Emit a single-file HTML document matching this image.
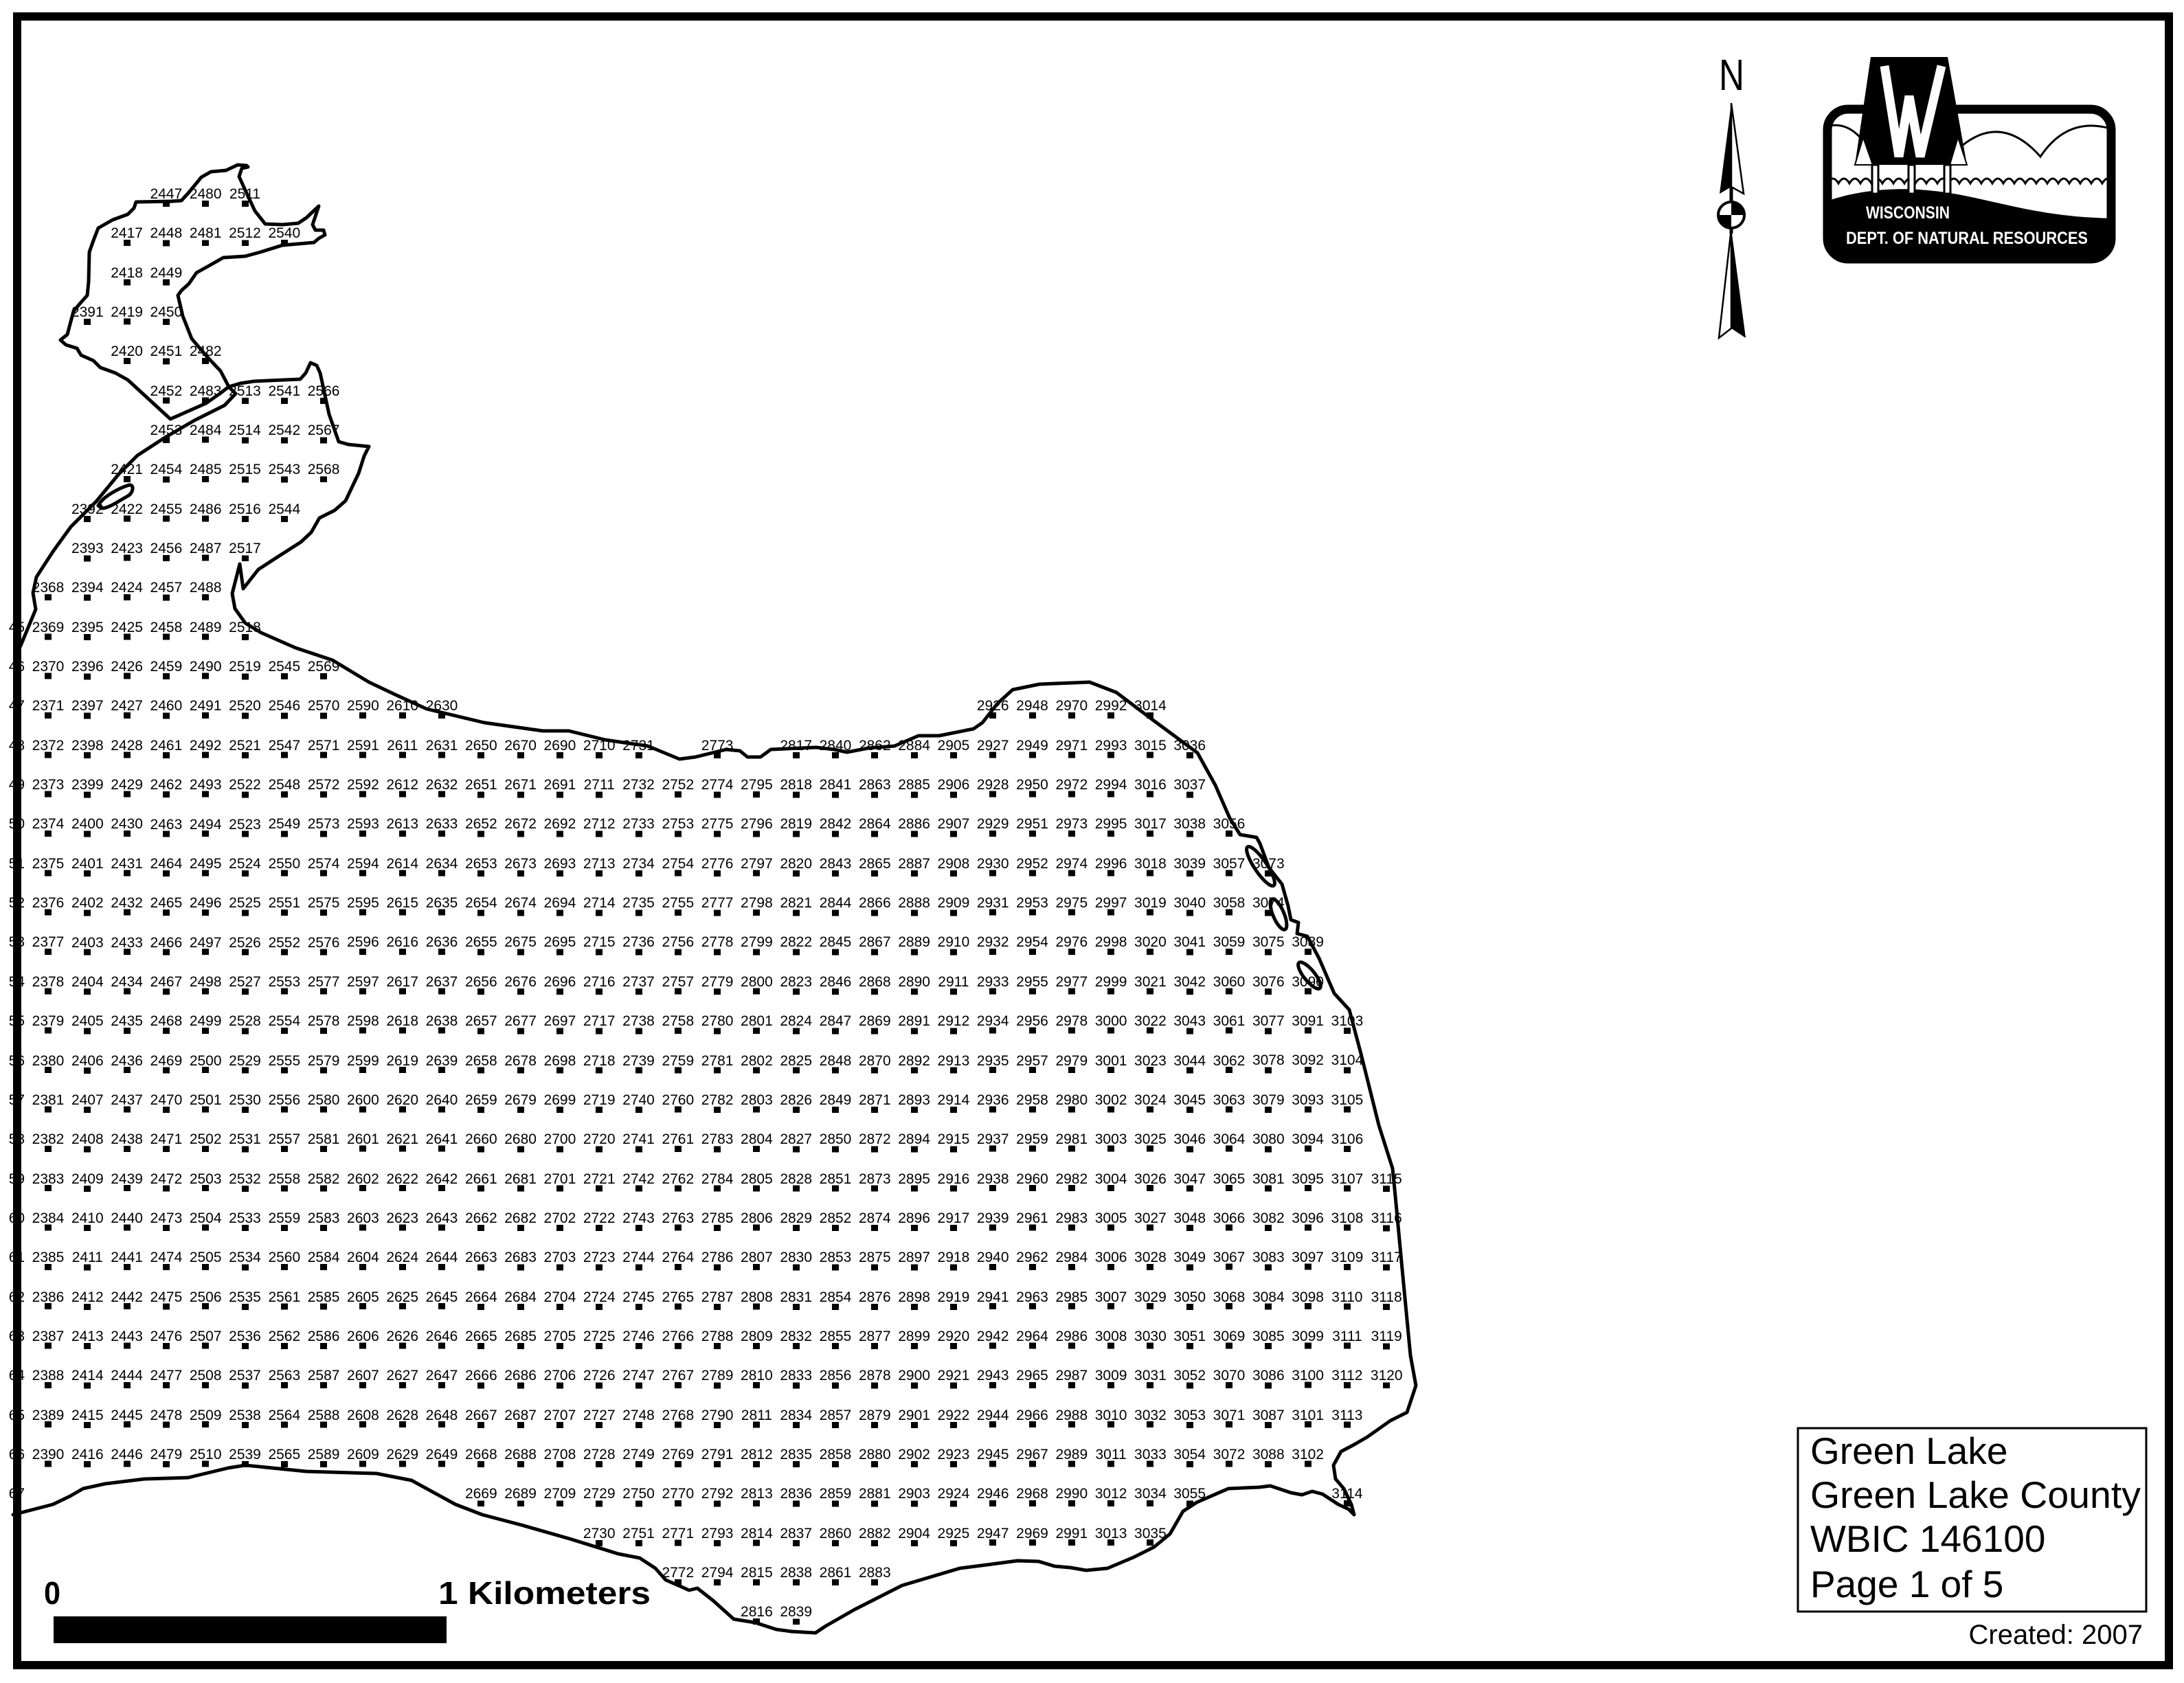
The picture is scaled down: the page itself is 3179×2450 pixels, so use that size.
<!DOCTYPE html>
<html><head><meta charset="utf-8">
<style>
html,body{margin:0;padding:0;background:#fff;}
body{width:3179px;height:2450px;position:relative;overflow:hidden;font-family:"Liberation Sans",Arial,sans-serif;}
svg{position:absolute;left:0;top:0;}
.c{position:absolute;width:80px;text-align:center;font-size:21px;line-height:57.34px;white-space:nowrap;color:#000;}
.d{position:absolute;width:10px;background:repeating-linear-gradient(#000 0px,#000 9px,transparent 9px,transparent 57.34px);}
.clip{position:absolute;left:13px;top:0;width:60px;height:2450px;overflow:hidden;}
</style></head><body>
<svg width="3179" height="2450" viewBox="0 0 3179 2450">
<g fill="none" stroke="#000" stroke-width="5" stroke-linejoin="round" stroke-linecap="round">
<path d="M22,955 L30,940 L52,887 L48,863 L53,840 L77,803 L103,767 L140,730 L173,690 L200,663 L240,637 L283,612 L327,590 L343,573 L333,563 L321,540 L302,520 L279,493 L266,460 L259,430 L264,423 L275,413 L286,397 L304,387 L325,375 L357,373 L379,367 L411,357 L457,353 L464,347 L473,342 L471,335 L459,335 L455,327 L464,300 L446,317 L434,325 L411,327 L386,326 L371,307 L357,277 L348,257 L352,245 L361,243 L359,241 L346,240 L329,248 L307,250 L293,258 L275,280 L264,292 L250,293 L198,294 L195,303 L186,312 L164,320 L143,332 L136,350 L130,367 L129,410 L127,430 L118,440 L107,453 L98,487 L88,495 L96,502 L112,507 L118,517 L136,525 L146,535 L168,543 L186,553 L248,610 L300,587 L320,573 L333,563 L350,558 L370,555 L437,552 L445,543 L452,528 L461,532 L466,543 L479,603 L493,643 L507,647 L537,650 L530,664 L522,689 L503,729 L487,743 L465,754 L453,775 L438,789 L399,814 L376,829 L354,857 L349,821 L338,864 L342,886 L357,907 L380,921 L430,943 L484,961 L537,993 L575,1011 L621,1032 L705,1052 L790,1064 L828,1064 L881,1077 L943,1086 L989,1105 L1012,1102 L1057,1091 L1077,1093 L1088,1102 L1107,1102 L1122,1091 L1188,1088 L1214,1091 L1233,1095 L1264,1089 L1302,1086 L1337,1071 L1367,1071 L1417,1061 L1430,1052 L1452,1024 L1474,1004 L1513,996 L1586,993 L1625,1008 L1678,1048 L1743,1096 L1769,1143 L1790,1191 L1805,1215 L1829,1219 L1834,1228 L1847,1263 L1866,1287 L1875,1319 L1879,1339 L1890,1343 L1888,1359 L1903,1363 L1920,1395 L1942,1446 L1964,1470 L1981,1534 L2007,1638 L2027,1701 L2031,1741 L2040,1837 L2053,1973 L2061,2017 L2048,2056 L2024,2068 L1990,2092 L1971,2103 L1952,2113 L1941,2133 L1944,2153 L1956,2167 L1967,2190 L1971,2205 L1963,2197 L1948,2190 L1925,2175 L1910,2171 L1895,2176 L1879,2173 L1849,2163 L1833,2165 L1788,2167 L1742,2187 L1722,2200 L1703,2233 L1680,2252 L1650,2267 L1612,2283 L1581,2286 L1558,2282 L1535,2280 L1512,2273 L1481,2272 L1436,2278 L1397,2283 L1313,2308 L1244,2343 L1202,2367 L1187,2377 L1152,2375 L1130,2372 L1099,2362 L1068,2357 L1038,2330 L1015,2312 L1003,2315 L992,2310 L969,2300 L954,2283 L931,2268 L900,2262 L829,2240 L759,2220 L702,2205 L663,2190 L599,2155 L548,2145 L446,2142 L357,2133 L332,2137 L274,2151 L210,2153 L153,2160 L121,2167 L102,2178 L77,2190 L19,2205"/>
<path d="M143,736 C150,722 175,710 188,706 C196,705 194,718 186,722 C172,730 158,740 148,740 Z" fill="#fff"/>
<ellipse cx="1835" cy="1261" rx="34" ry="9" transform="rotate(56 1835 1261)" fill="#fff"/>
<ellipse cx="1861" cy="1331" rx="24" ry="8" transform="rotate(67 1861 1331)" fill="#fff"/>
<ellipse cx="1906" cy="1420" rx="24" ry="8" transform="rotate(51 1906 1420)" fill="#fff"/>
</g>
</svg>

<div class="clip"><div class="c" style="left:-40.3px;top:884.74px">2345<br>2346<br>2347<br>2348<br>2349<br>2350<br>2351<br>2352<br>2353<br>2354<br>2355<br>2356<br>2357<br>2358<br>2359<br>2360<br>2361<br>2362<br>2363<br>2364<br>2365<br>2366<br>2367</div></div>
<div class="c" style="left:30px;top:827.4px">2368<br>2369<br>2370<br>2371<br>2372<br>2373<br>2374<br>2375<br>2376<br>2377<br>2378<br>2379<br>2380<br>2381<br>2382<br>2383<br>2384<br>2385<br>2386<br>2387<br>2388<br>2389<br>2390</div>
<div class="c" style="left:87.3px;top:426.02px">2391<br><br><br><br><br>2392<br>2393<br>2394<br>2395<br>2396<br>2397<br>2398<br>2399<br>2400<br>2401<br>2402<br>2403<br>2404<br>2405<br>2406<br>2407<br>2408<br>2409<br>2410<br>2411<br>2412<br>2413<br>2414<br>2415<br>2416</div>
<div class="c" style="left:144.6px;top:311.34px">2417<br>2418<br>2419<br>2420<br><br><br>2421<br>2422<br>2423<br>2424<br>2425<br>2426<br>2427<br>2428<br>2429<br>2430<br>2431<br>2432<br>2433<br>2434<br>2435<br>2436<br>2437<br>2438<br>2439<br>2440<br>2441<br>2442<br>2443<br>2444<br>2445<br>2446</div>
<div class="c" style="left:201.9px;top:254px">2447<br>2448<br>2449<br>2450<br>2451<br>2452<br>2453<br>2454<br>2455<br>2456<br>2457<br>2458<br>2459<br>2460<br>2461<br>2462<br>2463<br>2464<br>2465<br>2466<br>2467<br>2468<br>2469<br>2470<br>2471<br>2472<br>2473<br>2474<br>2475<br>2476<br>2477<br>2478<br>2479</div>
<div class="c" style="left:259.2px;top:254px">2480<br>2481<br><br><br>2482<br>2483<br>2484<br>2485<br>2486<br>2487<br>2488<br>2489<br>2490<br>2491<br>2492<br>2493<br>2494<br>2495<br>2496<br>2497<br>2498<br>2499<br>2500<br>2501<br>2502<br>2503<br>2504<br>2505<br>2506<br>2507<br>2508<br>2509<br>2510</div>
<div class="c" style="left:316.5px;top:254px">2511<br>2512<br><br><br><br>2513<br>2514<br>2515<br>2516<br>2517<br><br>2518<br>2519<br>2520<br>2521<br>2522<br>2523<br>2524<br>2525<br>2526<br>2527<br>2528<br>2529<br>2530<br>2531<br>2532<br>2533<br>2534<br>2535<br>2536<br>2537<br>2538<br>2539</div>
<div class="c" style="left:373.8px;top:311.34px">2540<br><br><br><br>2541<br>2542<br>2543<br>2544<br><br><br><br>2545<br>2546<br>2547<br>2548<br>2549<br>2550<br>2551<br>2552<br>2553<br>2554<br>2555<br>2556<br>2557<br>2558<br>2559<br>2560<br>2561<br>2562<br>2563<br>2564<br>2565</div>
<div class="c" style="left:431.1px;top:540.7px">2566<br>2567<br>2568<br><br><br><br><br>2569<br>2570<br>2571<br>2572<br>2573<br>2574<br>2575<br>2576<br>2577<br>2578<br>2579<br>2580<br>2581<br>2582<br>2583<br>2584<br>2585<br>2586<br>2587<br>2588<br>2589</div>
<div class="c" style="left:488.4px;top:999.42px">2590<br>2591<br>2592<br>2593<br>2594<br>2595<br>2596<br>2597<br>2598<br>2599<br>2600<br>2601<br>2602<br>2603<br>2604<br>2605<br>2606<br>2607<br>2608<br>2609</div>
<div class="c" style="left:545.7px;top:999.42px">2610<br>2611<br>2612<br>2613<br>2614<br>2615<br>2616<br>2617<br>2618<br>2619<br>2620<br>2621<br>2622<br>2623<br>2624<br>2625<br>2626<br>2627<br>2628<br>2629</div>
<div class="c" style="left:603px;top:999.42px">2630<br>2631<br>2632<br>2633<br>2634<br>2635<br>2636<br>2637<br>2638<br>2639<br>2640<br>2641<br>2642<br>2643<br>2644<br>2645<br>2646<br>2647<br>2648<br>2649</div>
<div class="c" style="left:660.3px;top:1056.76px">2650<br>2651<br>2652<br>2653<br>2654<br>2655<br>2656<br>2657<br>2658<br>2659<br>2660<br>2661<br>2662<br>2663<br>2664<br>2665<br>2666<br>2667<br>2668<br>2669</div>
<div class="c" style="left:717.6px;top:1056.76px">2670<br>2671<br>2672<br>2673<br>2674<br>2675<br>2676<br>2677<br>2678<br>2679<br>2680<br>2681<br>2682<br>2683<br>2684<br>2685<br>2686<br>2687<br>2688<br>2689</div>
<div class="c" style="left:774.9px;top:1056.76px">2690<br>2691<br>2692<br>2693<br>2694<br>2695<br>2696<br>2697<br>2698<br>2699<br>2700<br>2701<br>2702<br>2703<br>2704<br>2705<br>2706<br>2707<br>2708<br>2709</div>
<div class="c" style="left:832.2px;top:1056.76px">2710<br>2711<br>2712<br>2713<br>2714<br>2715<br>2716<br>2717<br>2718<br>2719<br>2720<br>2721<br>2722<br>2723<br>2724<br>2725<br>2726<br>2727<br>2728<br>2729<br>2730</div>
<div class="c" style="left:889.5px;top:1056.76px">2731<br>2732<br>2733<br>2734<br>2735<br>2736<br>2737<br>2738<br>2739<br>2740<br>2741<br>2742<br>2743<br>2744<br>2745<br>2746<br>2747<br>2748<br>2749<br>2750<br>2751</div>
<div class="c" style="left:946.8px;top:1114.1px">2752<br>2753<br>2754<br>2755<br>2756<br>2757<br>2758<br>2759<br>2760<br>2761<br>2762<br>2763<br>2764<br>2765<br>2766<br>2767<br>2768<br>2769<br>2770<br>2771<br>2772</div>
<div class="c" style="left:1004.1px;top:1056.76px">2773<br>2774<br>2775<br>2776<br>2777<br>2778<br>2779<br>2780<br>2781<br>2782<br>2783<br>2784<br>2785<br>2786<br>2787<br>2788<br>2789<br>2790<br>2791<br>2792<br>2793<br>2794</div>
<div class="c" style="left:1061.4px;top:1114.1px">2795<br>2796<br>2797<br>2798<br>2799<br>2800<br>2801<br>2802<br>2803<br>2804<br>2805<br>2806<br>2807<br>2808<br>2809<br>2810<br>2811<br>2812<br>2813<br>2814<br>2815<br>2816</div>
<div class="c" style="left:1118.7px;top:1056.76px">2817<br>2818<br>2819<br>2820<br>2821<br>2822<br>2823<br>2824<br>2825<br>2826<br>2827<br>2828<br>2829<br>2830<br>2831<br>2832<br>2833<br>2834<br>2835<br>2836<br>2837<br>2838<br>2839</div>
<div class="c" style="left:1176px;top:1056.76px">2840<br>2841<br>2842<br>2843<br>2844<br>2845<br>2846<br>2847<br>2848<br>2849<br>2850<br>2851<br>2852<br>2853<br>2854<br>2855<br>2856<br>2857<br>2858<br>2859<br>2860<br>2861</div>
<div class="c" style="left:1233.3px;top:1056.76px">2862<br>2863<br>2864<br>2865<br>2866<br>2867<br>2868<br>2869<br>2870<br>2871<br>2872<br>2873<br>2874<br>2875<br>2876<br>2877<br>2878<br>2879<br>2880<br>2881<br>2882<br>2883</div>
<div class="c" style="left:1290.6px;top:1056.76px">2884<br>2885<br>2886<br>2887<br>2888<br>2889<br>2890<br>2891<br>2892<br>2893<br>2894<br>2895<br>2896<br>2897<br>2898<br>2899<br>2900<br>2901<br>2902<br>2903<br>2904</div>
<div class="c" style="left:1347.9px;top:1056.76px">2905<br>2906<br>2907<br>2908<br>2909<br>2910<br>2911<br>2912<br>2913<br>2914<br>2915<br>2916<br>2917<br>2918<br>2919<br>2920<br>2921<br>2922<br>2923<br>2924<br>2925</div>
<div class="c" style="left:1405.2px;top:999.42px">2926<br>2927<br>2928<br>2929<br>2930<br>2931<br>2932<br>2933<br>2934<br>2935<br>2936<br>2937<br>2938<br>2939<br>2940<br>2941<br>2942<br>2943<br>2944<br>2945<br>2946<br>2947</div>
<div class="c" style="left:1462.5px;top:999.42px">2948<br>2949<br>2950<br>2951<br>2952<br>2953<br>2954<br>2955<br>2956<br>2957<br>2958<br>2959<br>2960<br>2961<br>2962<br>2963<br>2964<br>2965<br>2966<br>2967<br>2968<br>2969</div>
<div class="c" style="left:1519.8px;top:999.42px">2970<br>2971<br>2972<br>2973<br>2974<br>2975<br>2976<br>2977<br>2978<br>2979<br>2980<br>2981<br>2982<br>2983<br>2984<br>2985<br>2986<br>2987<br>2988<br>2989<br>2990<br>2991</div>
<div class="c" style="left:1577.1px;top:999.42px">2992<br>2993<br>2994<br>2995<br>2996<br>2997<br>2998<br>2999<br>3000<br>3001<br>3002<br>3003<br>3004<br>3005<br>3006<br>3007<br>3008<br>3009<br>3010<br>3011<br>3012<br>3013</div>
<div class="c" style="left:1634.4px;top:999.42px">3014<br>3015<br>3016<br>3017<br>3018<br>3019<br>3020<br>3021<br>3022<br>3023<br>3024<br>3025<br>3026<br>3027<br>3028<br>3029<br>3030<br>3031<br>3032<br>3033<br>3034<br>3035</div>
<div class="c" style="left:1691.7px;top:1056.76px">3036<br>3037<br>3038<br>3039<br>3040<br>3041<br>3042<br>3043<br>3044<br>3045<br>3046<br>3047<br>3048<br>3049<br>3050<br>3051<br>3052<br>3053<br>3054<br>3055</div>
<div class="c" style="left:1749px;top:1171.44px">3056<br>3057<br>3058<br>3059<br>3060<br>3061<br>3062<br>3063<br>3064<br>3065<br>3066<br>3067<br>3068<br>3069<br>3070<br>3071<br>3072</div>
<div class="c" style="left:1806.3px;top:1228.78px">3073<br>3074<br>3075<br>3076<br>3077<br>3078<br>3079<br>3080<br>3081<br>3082<br>3083<br>3084<br>3085<br>3086<br>3087<br>3088</div>
<div class="c" style="left:1863.6px;top:1343.46px">3089<br>3090<br>3091<br>3092<br>3093<br>3094<br>3095<br>3096<br>3097<br>3098<br>3099<br>3100<br>3101<br>3102</div>
<div class="c" style="left:1920.9px;top:1458.14px">3103<br>3104<br>3105<br>3106<br>3107<br>3108<br>3109<br>3110<br>3111<br>3112<br>3113<br><br>3114</div>
<div class="c" style="left:1978.2px;top:1687.5px">3115<br>3116<br>3117<br>3118<br>3119<br>3120</div>

<div class="d" style="left:65px;top:865.4px;height:1270.48px"></div>
<div class="d" style="left:122.3px;top:464.02px;height:9px"></div>
<div class="d" style="left:122.3px;top:750.72px;height:1385.16px"></div>
<div class="d" style="left:179.6px;top:349.34px;height:181.02px"></div>
<div class="d" style="left:179.6px;top:693.38px;height:1442.5px"></div>
<div class="d" style="left:236.9px;top:292px;height:1843.88px"></div>
<div class="d" style="left:294.2px;top:292px;height:66.34px"></div>
<div class="d" style="left:294.2px;top:521.36px;height:1614.52px"></div>
<div class="d" style="left:351.5px;top:292px;height:66.34px"></div>
<div class="d" style="left:351.5px;top:578.7px;height:238.36px"></div>
<div class="d" style="left:351.5px;top:922.74px;height:1213.14px"></div>
<div class="d" style="left:408.8px;top:349.34px;height:9px"></div>
<div class="d" style="left:408.8px;top:578.7px;height:181.02px"></div>
<div class="d" style="left:408.8px;top:980.08px;height:1155.8px"></div>
<div class="d" style="left:466.1px;top:578.7px;height:123.68px"></div>
<div class="d" style="left:466.1px;top:980.08px;height:1155.8px"></div>
<div class="d" style="left:523.4px;top:1037.42px;height:1098.46px"></div>
<div class="d" style="left:580.7px;top:1037.42px;height:1098.46px"></div>
<div class="d" style="left:638px;top:1037.42px;height:1098.46px"></div>
<div class="d" style="left:695.3px;top:1094.76px;height:1098.46px"></div>
<div class="d" style="left:752.6px;top:1094.76px;height:1098.46px"></div>
<div class="d" style="left:809.9px;top:1094.76px;height:1098.46px"></div>
<div class="d" style="left:867.2px;top:1094.76px;height:1155.8px"></div>
<div class="d" style="left:924.5px;top:1094.76px;height:1155.8px"></div>
<div class="d" style="left:981.8px;top:1152.1px;height:1155.8px"></div>
<div class="d" style="left:1039.1px;top:1094.76px;height:1213.14px"></div>
<div class="d" style="left:1096.4px;top:1152.1px;height:1213.14px"></div>
<div class="d" style="left:1153.7px;top:1094.76px;height:1270.48px"></div>
<div class="d" style="left:1211px;top:1094.76px;height:1213.14px"></div>
<div class="d" style="left:1268.3px;top:1094.76px;height:1213.14px"></div>
<div class="d" style="left:1325.6px;top:1094.76px;height:1155.8px"></div>
<div class="d" style="left:1382.9px;top:1094.76px;height:1155.8px"></div>
<div class="d" style="left:1440.2px;top:1037.42px;height:1213.14px"></div>
<div class="d" style="left:1497.5px;top:1037.42px;height:1213.14px"></div>
<div class="d" style="left:1554.8px;top:1037.42px;height:1213.14px"></div>
<div class="d" style="left:1612.1px;top:1037.42px;height:1213.14px"></div>
<div class="d" style="left:1669.4px;top:1037.42px;height:1213.14px"></div>
<div class="d" style="left:1726.7px;top:1094.76px;height:1098.46px"></div>
<div class="d" style="left:1784px;top:1209.44px;height:926.44px"></div>
<div class="d" style="left:1841.3px;top:1266.78px;height:869.1px"></div>
<div class="d" style="left:1898.6px;top:1381.46px;height:754.42px"></div>
<div class="d" style="left:1955.9px;top:1496.14px;height:582.4px"></div>
<div class="d" style="left:1955.9px;top:2184.22px;height:9px"></div>
<div class="d" style="left:2013.2px;top:1725.5px;height:295.7px"></div>

<svg width="3179" height="2450" viewBox="0 0 3179 2450">
<defs>
<clipPath id="lc"><rect x="2660" y="159" width="413" height="218" rx="30"/></clipPath>
</defs>
<rect x="25" y="24" width="3132" height="2400" fill="none" stroke="#000" stroke-width="12"/>
<!-- north arrow -->
<text x="2502" y="131" font-family="Liberation Sans, Arial, sans-serif" font-size="64" textLength="37" lengthAdjust="spacingAndGlyphs">N</text>
<polygon points="2520,150 2503,282 2520,272" fill="#000"/>
<polygon points="2520,150 2538,282 2520,272" fill="#fff" stroke="#000" stroke-width="2.5"/>
<line x1="2520" y1="272" x2="2520" y2="340" stroke="#000" stroke-width="5"/>
<circle cx="2520" cy="313" r="19" fill="#fff" stroke="#000" stroke-width="4"/>
<path d="M2520,313 L2520,294 A19,19 0 0 1 2539,313 Z" fill="#000"/>
<path d="M2520,313 L2520,332 A19,19 0 0 1 2501,313 Z" fill="#000"/>
<polygon points="2520,333 2502,492 2520,478" fill="#fff" stroke="#000" stroke-width="2.5"/>
<polygon points="2520,333 2541,492 2520,478" fill="#000"/>
<!-- logo -->
<g clip-path="url(#lc)">
<rect x="2660" y="159" width="413" height="218" fill="#fff"/>
<path d="M2664,183 Q2690,178 2712,205" fill="none" stroke="#000" stroke-width="3"/>
<path d="M2856,212 Q2914,165 2970,228 Q3010,168 3075,188" fill="none" stroke="#000" stroke-width="3"/>
<path d="M2660,267 q8,-14 16,0 q8,-14 16,0 q8,-14 16,0 q8,-14 16,0 q8,-14 16,0 q8,-14 16,0 q8,-14 16,0 q8,-14 16,0 q8,-14 16,0 q8,-14 16,0 q8,-14 16,0 q8,-14 16,0 q8,-14 16,0 q8,-14 16,0 q8,-14 16,0 q8,-14 16,0 q8,-14 16,0 q8,-14 16,0 q8,-14 16,0 q8,-14 16,0 q8,-14 16,0 q8,-14 16,0 q8,-14 16,0 q8,-14 16,0 q8,-14 16,0 q8,-14 16,0" fill="none" stroke="#000" stroke-width="3"/>
<path d="M2650,296 C2720,270 2790,272 2850,283 C2920,296 2980,318 3090,318 L3090,390 L2650,390 Z" fill="#000"/>
</g>
<rect x="2660" y="159" width="413" height="218" rx="30" fill="none" stroke="#000" stroke-width="13"/>
<polygon points="2723,83 2835,83 2863,240 2700,240" fill="#000"/>
<polyline points="2743,96 2764,228 2779,140 2795,228 2826,96" fill="none" stroke="#fff" stroke-width="13" stroke-linejoin="miter"/>
<polygon points="2712,200 2700,240 2726,240" fill="#fff" stroke="#000" stroke-width="2"/>
<polygon points="2850,200 2863,240 2838,240" fill="#fff" stroke="#000" stroke-width="2"/>
<rect x="2725" y="240" width="9" height="42" fill="#fff" stroke="#000" stroke-width="3"/>
<rect x="2778" y="240" width="9" height="42" fill="#fff" stroke="#000" stroke-width="3"/>
<rect x="2830" y="240" width="9" height="42" fill="#fff" stroke="#000" stroke-width="3"/>
<text x="2716" y="318" font-family="Liberation Sans, Arial, sans-serif" font-weight="bold" font-size="25" fill="#fff" textLength="122" lengthAdjust="spacingAndGlyphs">WISCONSIN</text>
<text x="2687" y="355" font-family="Liberation Sans, Arial, sans-serif" font-weight="bold" font-size="25" fill="#fff" textLength="352" lengthAdjust="spacingAndGlyphs">DEPT. OF NATURAL RESOURCES</text>
<!-- scale bar -->
<rect x="78" y="2353" width="572" height="39" fill="#000"/>
<text x="64" y="2335" font-family="Liberation Sans, Arial, sans-serif" font-weight="bold" font-size="46" textLength="24" lengthAdjust="spacingAndGlyphs">0</text>
<text x="638" y="2335" font-family="Liberation Sans, Arial, sans-serif" font-weight="bold" font-size="46" textLength="309" lengthAdjust="spacingAndGlyphs">1 Kilometers</text>
<!-- legend -->
<rect x="2617" y="2079" width="507" height="267" fill="#fff" stroke="#000" stroke-width="3"/>
<g font-family="Liberation Sans, Arial, sans-serif" font-size="55">
<text x="2635" y="2131">Green Lake</text>
<text x="2635" y="2195" textLength="481" lengthAdjust="spacingAndGlyphs">Green Lake County</text>
<text x="2635" y="2259">WBIC 146100</text>
<text x="2635" y="2325">Page 1 of 5</text>
</g>
<text x="3119" y="2393" text-anchor="end" font-family="Liberation Sans, Arial, sans-serif" font-size="40">Created: 2007</text>
</svg>
</body></html>
